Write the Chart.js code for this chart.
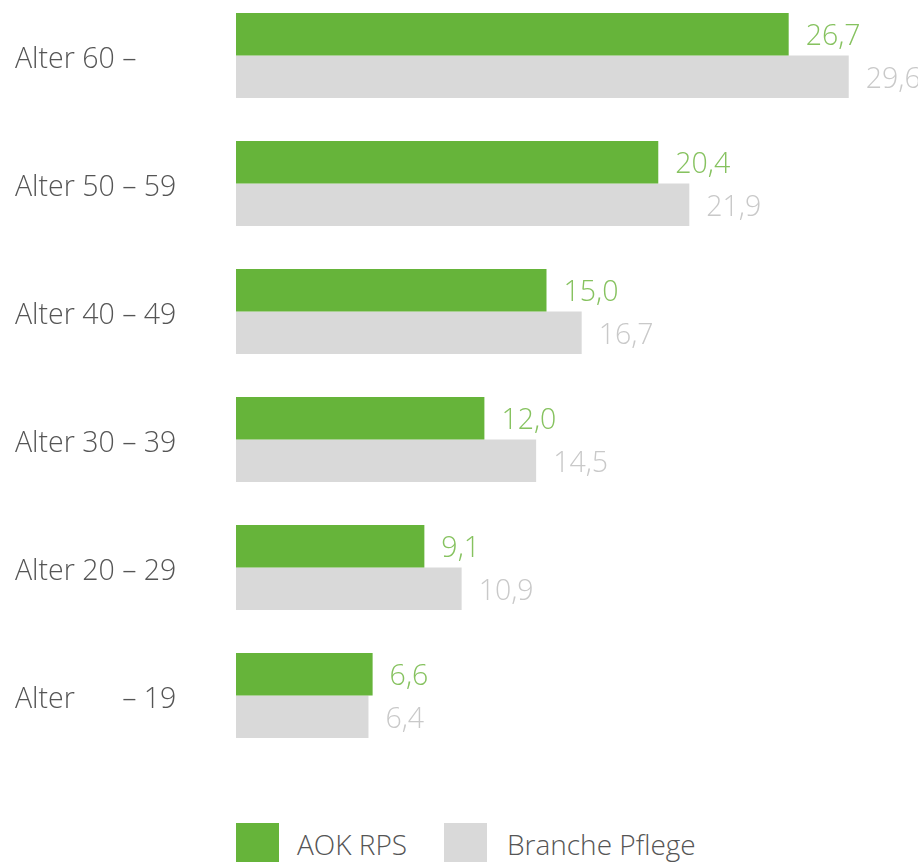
<!DOCTYPE html>
<html>
<head>
<meta charset="utf-8">
<script src="https://cdn.jsdelivr.net/npm/chart.js@4"></script>
<style>
  html, body { margin: 0; padding: 0; background: #fff; overflow: hidden; }
  body { width: 918px; height: 862px; position: relative; }
  #wrap { position: absolute; left: 0; top: -40px; width: 918px; height: 820px; }
  .legend { position: absolute; top: 823px; font-family: 'Open Sans', sans-serif; font-weight: 300; font-size: 28px; color: #555; line-height: 43px; }
  .box { position: absolute; top: 823px; width: 43px; height: 43px; }
</style>
</head>
<body>
<div id="wrap"><canvas id="c"></canvas></div>
<div class="box" style="left:236px;background:#66b43a"></div>
<div class="legend" style="left:297px">AOK RPS</div>
<div class="box" style="left:444px;background:#d9d9d9"></div>
<div class="legend" style="left:507px">Branche Pflege</div>
<script>
const categories = ['Alter 60 –', 'Alter 50 – 59', 'Alter 40 – 49', 'Alter 30 – 39', 'Alter 20 – 29', 'Alter \u2007\u2007 – 19'];
const aokRps = [26.7, 20.4, 15.0, 12.0, 9.1, 6.6];
const branchePflege = [29.6, 21.9, 16.7, 14.5, 10.9, 6.4];
const seriesNames = ['AOK RPS', 'Branche Pflege'];

const FONT = "'Open Sans', sans-serif";

const valueLabels = {
  id: 'valueLabels',
  afterDatasetsDraw(chart) {
    const ctx = chart.ctx;
    const colors = ['#86c25f', '#c9c9c9'];
    ctx.save();
    ctx.font = '300 28.5px ' + FONT;
    ctx.textAlign = 'left';
    ctx.textBaseline = 'middle';
    chart.data.datasets.forEach((ds, di) => {
      const meta = chart.getDatasetMeta(di);
      meta.data.forEach((bar, i) => {
        ctx.fillStyle = colors[di];
        ctx.fillText(ds.data[i].toFixed(1).replace('.', ','), bar.x + 17, bar.y + 3);
      });
    });
    ctx.restore();
  }
};

new Chart(document.getElementById('c'), {
  type: 'bar',
  data: {
    labels: categories,
    datasets: [
      { label: seriesNames[0], data: aokRps, backgroundColor: '#66b43a', borderWidth: 0 },
      { label: seriesNames[1], data: branchePflege, backgroundColor: '#d9d9d9', borderWidth: 0 }
    ]
  },
  options: {
    indexAxis: 'y',
    responsive: true,
    maintainAspectRatio: false,
    animation: false,
    layout: { padding: { left: 15, right: 61, top: 31.5, bottom: 20.5 } },
    datasets: { bar: { barPercentage: 1, categoryPercentage: 0.664 } },
    plugins: { legend: { display: false }, tooltip: { enabled: false } },
    scales: {
      x: { display: false, min: 0, max: 30 },
      y: {
        grid: { display: false, drawTicks: false },
        border: { display: false },
        ticks: {
          crossAlign: 'far',
          padding: 0,
          labelOffset: 4,
          color: '#555',
          font: { family: FONT, size: 28.5, weight: 300 }
        },
        afterFit(scale) { scale.width = 221; }
      }
    }
  },
  plugins: [valueLabels]
});
</script>
</body>
</html>
